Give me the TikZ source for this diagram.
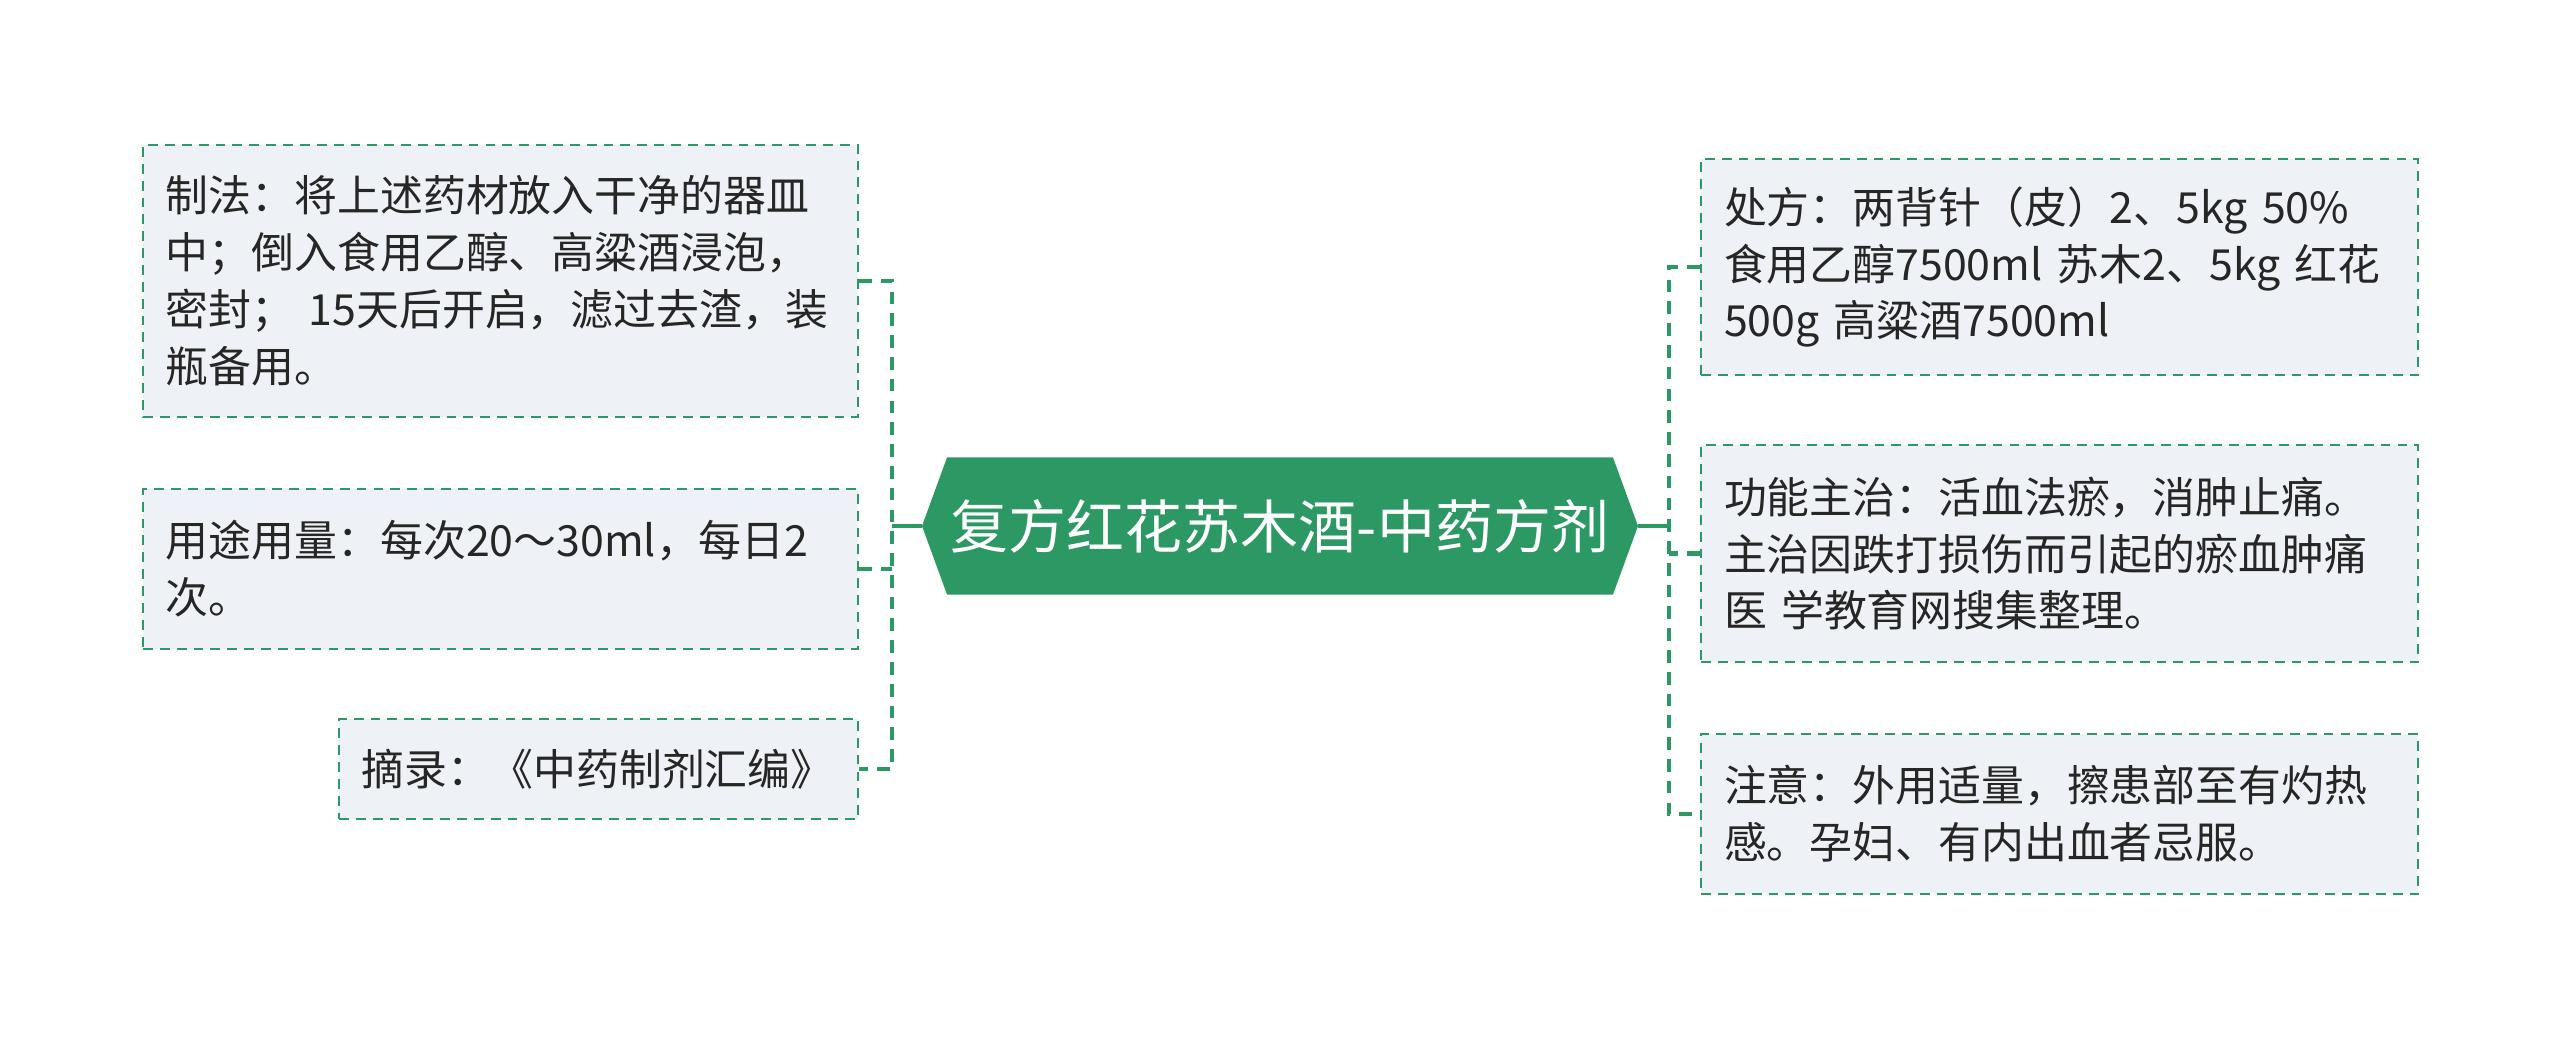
\documentclass[tikz,border=0pt]{standalone}
\usepackage{fontspec}
\setmainfont{Noto Sans CJK SC}
\usetikzlibrary{calc,positioning}
\definecolor{herbgreen}{RGB}{44,153,100}
\definecolor{leafgrey}{RGB}{238,241,245}
\definecolor{inkgrey}{RGB}{38,38,38}

\begin{document}
\begin{tikzpicture}[line cap=butt,line join=miter,
  leaf/.style={draw=herbgreen,fill=leafgrey,line width=0.6pt,
   dash pattern=on 2.8pt off 2pt,text=inkgrey,align=left,
   inner xsep=2.3mm,inner ysep=0pt,
   font=\fontsize{12.2}{16.2}\selectfont},
  twig/.style={herbgreen,line width=1.3pt,dash pattern=on 3.6pt off 2.6pt},
  stem/.style={herbgreen,line width=0.9pt}]
 \useasboundingbox (0,0) rectangle (25.6,-10.37);
 % central topic
 \coordinate (ltip) at (9.22,-5.26);
 \coordinate (rtip) at (16.38,-5.26);
 \fill[herbgreen] (ltip) -- (9.47,-4.575) -- (16.13,-4.575) -- (rtip)
  -- (16.13,-5.945) -- (9.47,-5.945) -- cycle;
 \node[text=white,font=\fontsize{16.5}{20}\selectfont,inner sep=0pt,
  minimum width=6.66cm,minimum height=1.37cm] (root) at (12.80,-5.26)
  {复方红花苏木酒-中药方剂};
 % left branches
 \node[leaf,anchor=north east,text width=6.69cm,minimum height=2.72cm]
  (make) at (8.59,-1.44)
  {制法：将上述药材放入干净的器皿\\中；倒入食用乙醇、高粱酒浸泡，\\密封；~15天后开启，滤过去渣，装\\瓶备用。};
 \node[leaf,anchor=north east,text width=6.69cm,minimum height=1.60cm]
  (usage) at (8.59,-4.88)
  {用途用量：每次20～30ml，每日2\\次。};
 \node[leaf,anchor=north east,text width=4.73cm,minimum height=1.00cm]
  (source) at (8.59,-7.18)
  {摘录：《中药制剂汇编》};
 % right branches
 \node[leaf,anchor=north west,text width=6.71cm,minimum height=2.16cm]
  (recipe) at (17.00,-1.58)
  {处方：两背针（皮）2、5kg~50\%\\食用乙醇7500ml~苏木2、5kg~红花\\500g~高粱酒7500ml};
 \node[leaf,anchor=north west,text width=6.71cm,minimum height=2.17cm]
  (effect) at (17.00,-4.44)
  {功能主治：活血法瘀，消肿止痛。\\主治因跌打损伤而引起的瘀血肿痛\\医~学教育网搜集整理。};
 \node[leaf,anchor=north west,text width=6.71cm,minimum height=1.60cm]
  (caution) at (17.00,-7.33)
  {注意：外用适量，擦患部至有灼热\\感。孕妇、有内出血者忌服。};
 % connectors
 \coordinate (lhub) at (8.92,-5.26);
 \coordinate (rhub) at (16.69,-5.26);
 \draw[stem] (ltip) -- (lhub);
 \draw[stem] (rtip) -- (rhub);
 \draw[twig] (make.east) -| (lhub) |- (source.east);
 \draw[twig] (usage.east) -- (usage.east -| lhub);
 \draw[twig] (recipe.west) -| (rhub) |- (caution.west);
 \draw[twig] (effect.west) -- (effect.west -| rhub);
\end{tikzpicture}
\end{document}
